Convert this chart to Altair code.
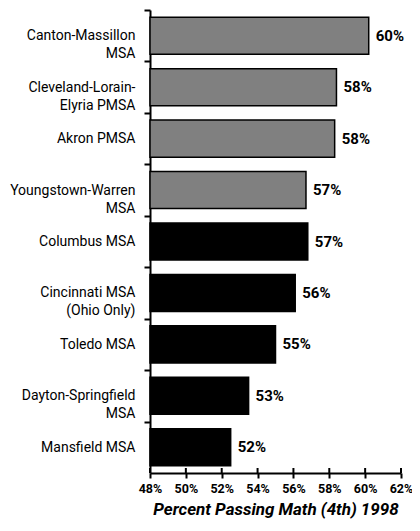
import altair as alt
import pandas as pd

regions = [
    "Canton-Massillon|MSA",
    "Cleveland-Lorain-|Elyria PMSA",
    "Akron PMSA",
    "Youngstown-Warren|MSA",
    "Columbus MSA",
    "Cincinnati MSA|(Ohio Only)",
    "Toledo MSA",
    "Dayton-Springfield|MSA",
    "Mansfield MSA",
]
values = [60.2, 58.4, 58.3, 56.7, 56.8, 56.1, 55.0, 53.5, 52.5]
labels = ["60%", "58%", "58%", "57%", "57%", "56%", "55%", "53%", "52%"]
groups = ["gray", "gray", "gray", "gray", "black", "black", "black", "black", "black"]
x_ticks = [48, 50, 52, 54, 56, 58, 60, 62]
x_base = 48

FONT = "Roboto, Liberation Sans, sans-serif"
W, H = 251, 463
STEP = H / len(regions)
TITLE = "Percent Passing Math (4th) 1998"

df = pd.DataFrame({"region": regions, "value": values, "label": labels, "group": groups})
ticks_df = pd.DataFrame({"t": x_ticks})

x_scale = alt.Scale(domain=[48, 62], nice=False, zero=False)
y_scale = alt.Scale(paddingInner=0.28, paddingOuter=0.14)

y_axis = alt.Axis(
    title=None,
    labelExpr="split(datum.value, '|')",
    labelFont=FONT,
    labelFontSize=14,
    labelColor="#000",
    labelLineHeight=18,
    labelPadding=9,
    tickOffset=-STEP / 2,
    labelOffset=STEP / 2,
    tickSize=6,
    tickColor="#000",
    tickWidth=2,
    domainColor="#000",
    domainWidth=2,
)

x_axis = alt.Axis(
    values=x_ticks,
    labelExpr="datum.value + '%'",
    labelFont=FONT,
    labelFontSize=12.5,
    labelFontWeight="bold",
    labelColor="#000",
    labelPadding=4,
    labelOverlap=False,
    labelFlush=False,
    labelBound=False,
    tickSize=5,
    tickWidth=2,
    tickColor="#000",
    domainColor="#000",
    domainWidth=2,
    grid=False,
    title=TITLE,
    titleFont=FONT,
    titleFontSize=17,
    titleFontWeight="bold",
    titleFontStyle="italic",
    titleColor="#000",
    titlePadding=7,
)

bars = alt.Chart(df).mark_bar(stroke="#000", strokeWidth=1.5).encode(
    x=alt.X("value:Q", scale=x_scale, axis=x_axis, title=TITLE),
    x2=alt.datum(x_base),
    y=alt.Y("region:N", sort=None, scale=y_scale, axis=y_axis),
    color=alt.Color(
        "group:N",
        scale=alt.Scale(domain=["gray", "black"], range=["#808080", "#000000"]),
        legend=None,
    ),
)

text = alt.Chart(df).mark_text(
    align="left", baseline="middle", dx=7, font=FONT, fontSize=15, fontWeight="bold", color="#000"
).encode(
    x=alt.X("value:Q", scale=x_scale, axis=x_axis, title=TITLE),
    y=alt.Y("region:N", sort=None, scale=y_scale, axis=y_axis),
    text="label:N",
)

inner_ticks = alt.Chart(ticks_df).mark_rule(color="#000", strokeWidth=2).encode(
    x=alt.X("t:Q", scale=x_scale, axis=x_axis, title=TITLE),
    y=alt.value(H - 5),
    y2=alt.value(H),
)

chart = (
    alt.layer(bars, text, inner_ticks)
    .properties(
        width=W,
        height=H,
        autosize=alt.AutoSizeParams(type="none"),
        padding={"left": 142, "top": 2, "right": 11, "bottom": 48},
        background="white",
    )
    .configure_view(stroke=None)
)

chart.save("out.html", embed_options={"renderer": "svg", "actions": False})
